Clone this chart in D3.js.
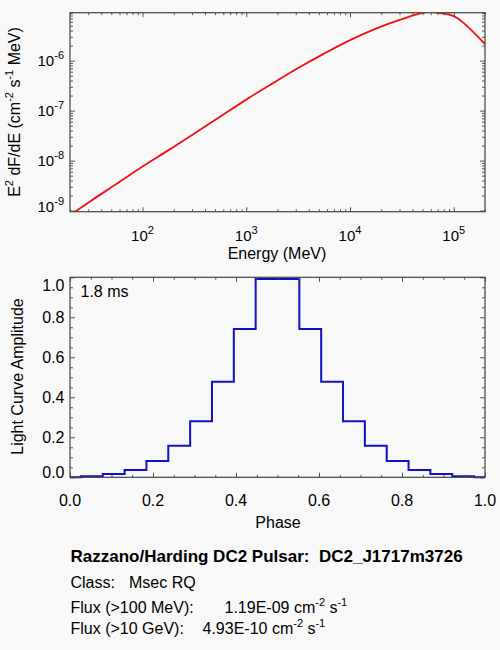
<!DOCTYPE html>
<html>
<head>
<meta charset="utf-8">
<script src="https://cdn.jsdelivr.net/npm/d3@7"></script>
<style>
  body { margin: 0; background: #f8f8f8; }
  text { font-family: "Liberation Sans", Arial, Helvetica, sans-serif; fill: #000; white-space: pre; }
</style>
</head>
<body>
<script>
// spectrum (MeV, E^2 dF/dE)
const energy = [20, 32, 56, 100, 178, 316, 562, 1000, 1780, 3160, 5620, 1e4, 1.78e4, 3.16e4, 5.0e4, 5.9e4, 7.1e4, 1e5, 1.2e5, 1.41e5, 2e5];
const sed = [8.1e-10, 1.58e-9, 3.4e-9, 7.6e-9, 1.62e-8, 3.47e-8, 7.6e-8, 1.66e-7, 3.47e-7, 7.1e-7, 1.38e-6, 2.57e-6, 4.37e-6, 6.76e-6, 9.0e-6, 9.44e-6, 9.0e-6, 7.76e-6, 6.03e-6, 4.47e-6, 2.14e-6];

// light curve, one value per phase point (histogram style)
const phase = [0, 0.0526, 0.1053, 0.1579, 0.2105, 0.2632, 0.3158, 0.3684, 0.4211, 0.4737,
               0.5263, 0.5789, 0.6316, 0.6842, 0.7368, 0.7895, 0.8421, 0.8947, 0.9474, 1.0];
const amplitude = [0.0, 0.005, 0.016, 0.036, 0.081, 0.158, 0.28, 0.478, 0.742, 0.992,
                   0.992, 0.742, 0.478, 0.28, 0.158, 0.081, 0.036, 0.016, 0.005, 0.0];

// tick values
const energyDecades = [100, 1e3, 1e4, 1e5];
const sedDecades = [1e-9, 1e-8, 1e-7, 1e-6];
const phaseTicks = [0, 0.2, 0.4, 0.6, 0.8, 1.0];
const phaseMinor = [0.05, 0.1, 0.15, 0.25, 0.3, 0.35, 0.45, 0.5, 0.55, 0.65, 0.7, 0.75, 0.85, 0.9, 0.95];
const ampTicks = [0, 0.2, 0.4, 0.6, 0.8, 1.0];
const ampMinor = [0.05, 0.1, 0.15, 0.25, 0.3, 0.35, 0.45, 0.5, 0.55, 0.65, 0.7, 0.75, 0.85, 0.9, 0.95];

// info lines under the plots
const pulsarTitle = "Razzano/Harding DC2 Pulsar:  DC2_J1717m3726";
const pulsarClass = { label: "Class:", value: "Msec RQ" };
const fluxRows = [
  { label: "Flux (>100 MeV):", value: "1.19E-09" },
  { label: "Flux (>10 GeV):", value: "4.93E-10" }
];

const svg = d3.select("body").append("svg")
    .attr("width", 500)
    .attr("height", 650);

svg.append("rect").attr("width", 500).attr("height", 650).attr("fill", "#f8f8f8");

// draws inward ticks on one side of a box
function ticks(axisFn, scale, values, size, tx, ty) {
    svg.append("g")
        .attr("transform", `translate(${tx},${ty})`)
        .call(axisFn(scale).tickValues(values).tickSize(-size).tickSizeOuter(0).tickFormat(""))
        .call(g => g.select(".domain").remove())
        .call(g => g.selectAll("text").remove())
        .selectAll("line").attr("stroke", "#555").attr("stroke-width", 1);
}

function box(x, y, xMaj, xMin, yMaj, yMin) {
    const [l, r] = x.range(), [b, t] = y.range();
    ticks(d3.axisBottom, x, xMin, 2.5, 0, b);
    ticks(d3.axisTop, x, xMin, 2.5, 0, t);
    ticks(d3.axisBottom, x, xMaj, 4.5, 0, b);
    ticks(d3.axisTop, x, xMaj, 4.5, 0, t);
    ticks(d3.axisLeft, y, yMin, 3, l, 0);
    ticks(d3.axisRight, y, yMin, 3, r, 0);
    ticks(d3.axisLeft, y, yMaj, 5, l, 0);
    ticks(d3.axisRight, y, yMaj, 5, r, 0);
    svg.append("rect")
        .attr("x", l).attr("y", t)
        .attr("width", r - l).attr("height", b - t)
        .attr("fill", "none").attr("stroke", "#444").attr("stroke-width", 1.2);
}

// keep edge labels inside the box
function clampY(v, y) {
    const [b, t] = y.range();
    return Math.max(t + 8, Math.min(b - 5, v));
}

// ---------- top: spectrum ----------
const xE = d3.scaleLog().domain([20, 2e5]).range([70, 485]);
const yS = d3.scaleLog().domain([9.5e-10, 9.1e-6]).range([211.7, 12.7]);

const isDecade = v => Math.abs(Math.log10(v) - Math.round(Math.log10(v))) < 1e-6;
const sedMinorX = xE.ticks().filter(v => !isDecade(v));
const sedMinorY = yS.ticks().filter(v => !isDecade(v));
const sedMajorY = yS.ticks().filter(isDecade);

svg.append("clipPath").attr("id", "clipTop")
  .append("rect").attr("x", 70).attr("y", 12.7).attr("width", 415).attr("height", 199);

svg.append("path")
    .datum(energy.map((e, i) => [e, sed[i]]))
    .attr("clip-path", "url(#clipTop)")
    .attr("fill", "none")
    .attr("stroke", "#f41010")
    .attr("stroke-width", 1.8)
    .attr("d", d3.line().x(d => xE(d[0])).y(d => yS(d[1])).curve(d3.curveMonotoneX));

box(xE, yS, energyDecades, sedMinorX, sedMajorY, sedMinorY);

energyDecades.forEach(d => {
    const t = svg.append("text").attr("x", xE(d)).attr("y", 240.5)
        .attr("text-anchor", "middle").attr("font-size", 15);
    t.append("tspan").text("10");
    t.append("tspan").attr("font-size", 11).attr("dy", -7).text(Math.round(Math.log10(d)));
});

sedDecades.forEach(d => {
    const t = svg.append("text").attr("x", 64).attr("y", clampY(yS(d), yS) + 5.5)
        .attr("text-anchor", "end").attr("font-size", 15);
    t.append("tspan").text("10");
    t.append("tspan").attr("font-size", 11).attr("dy", -7).text(Math.round(Math.log10(d)));
});

svg.append("text").attr("x", 277).attr("y", 259)
    .attr("text-anchor", "middle").attr("font-size", 16).text("Energy (MeV)");

const yl = svg.append("text")
    .attr("transform", "translate(20,112) rotate(-90)")
    .attr("text-anchor", "middle").attr("font-size", 16);
yl.append("tspan").text("E");
yl.append("tspan").attr("font-size", 11).attr("dy", -7).text("2");
yl.append("tspan").attr("dy", 7).text(" dF/dE (cm");
yl.append("tspan").attr("font-size", 11).attr("dy", -7).text("-2");
yl.append("tspan").attr("dy", 7).text(" s");
yl.append("tspan").attr("font-size", 11).attr("dy", -7).text("-1");
yl.append("tspan").attr("dy", 7).text(" MeV)");

// ---------- bottom: light curve ----------
const xP = d3.scaleLinear().domain([0, 1]).range([70, 485]);
const yA = d3.scaleLinear().domain([0, 1]).range([477.3, 277.3]);

svg.append("path")
    .datum(phase.map((p, i) => [p, amplitude[i]]))
    .attr("fill", "none")
    .attr("stroke", "#1010c8")
    .attr("stroke-width", 2)
    .attr("d", d3.line().x(d => xP(d[0])).y(d => yA(d[1])).curve(d3.curveStep));

box(xP, yA, phaseTicks, phaseMinor, ampTicks, ampMinor);

phaseTicks.forEach(d => {
    svg.append("text").attr("x", xP(d)).attr("y", 505.5)
        .attr("text-anchor", "middle").attr("font-size", 16).text(d3.format(".1f")(d));
});
ampTicks.forEach(d => {
    svg.append("text").attr("x", 64.5).attr("y", clampY(yA(d), yA) + 5.8)
        .attr("text-anchor", "end").attr("font-size", 16).text(d3.format(".1f")(d));
});

svg.append("text").attr("x", 278).attr("y", 528)
    .attr("text-anchor", "middle").attr("font-size", 16).text("Phase");

svg.append("text")
    .attr("transform", "translate(22.5,376.5) rotate(-90)")
    .attr("text-anchor", "middle").attr("font-size", 16).text("Light Curve Amplitude");

svg.append("text").attr("x", 80.5).attr("y", 297).attr("font-size", 16).text("1.8 ms");

// ---------- info text ----------
svg.append("text").attr("x", 70.5).attr("y", 562).attr("font-size", 17)
    .attr("font-weight", "bold").text(pulsarTitle);

const cls = svg.append("text").attr("x", 70.5).attr("y", 588).attr("font-size", 16);
cls.append("tspan").text(pulsarClass.label);
cls.append("tspan").attr("x", 129).text(pulsarClass.value);

const valueX = [224.5, 202.5];
const rowY = [612.5, 633.5];
fluxRows.forEach((row, i) => {
    const t = svg.append("text").attr("x", 70.5).attr("y", rowY[i]).attr("font-size", 16);
    t.append("tspan").text(row.label);
    t.append("tspan").attr("x", valueX[i]).text(row.value + " cm");
    t.append("tspan").attr("font-size", 11).attr("dy", -7).text("-2");
    t.append("tspan").attr("dy", 7).text(" s");
    t.append("tspan").attr("font-size", 11).attr("dy", -7).text("-1");
});
</script>
</body>
</html>
